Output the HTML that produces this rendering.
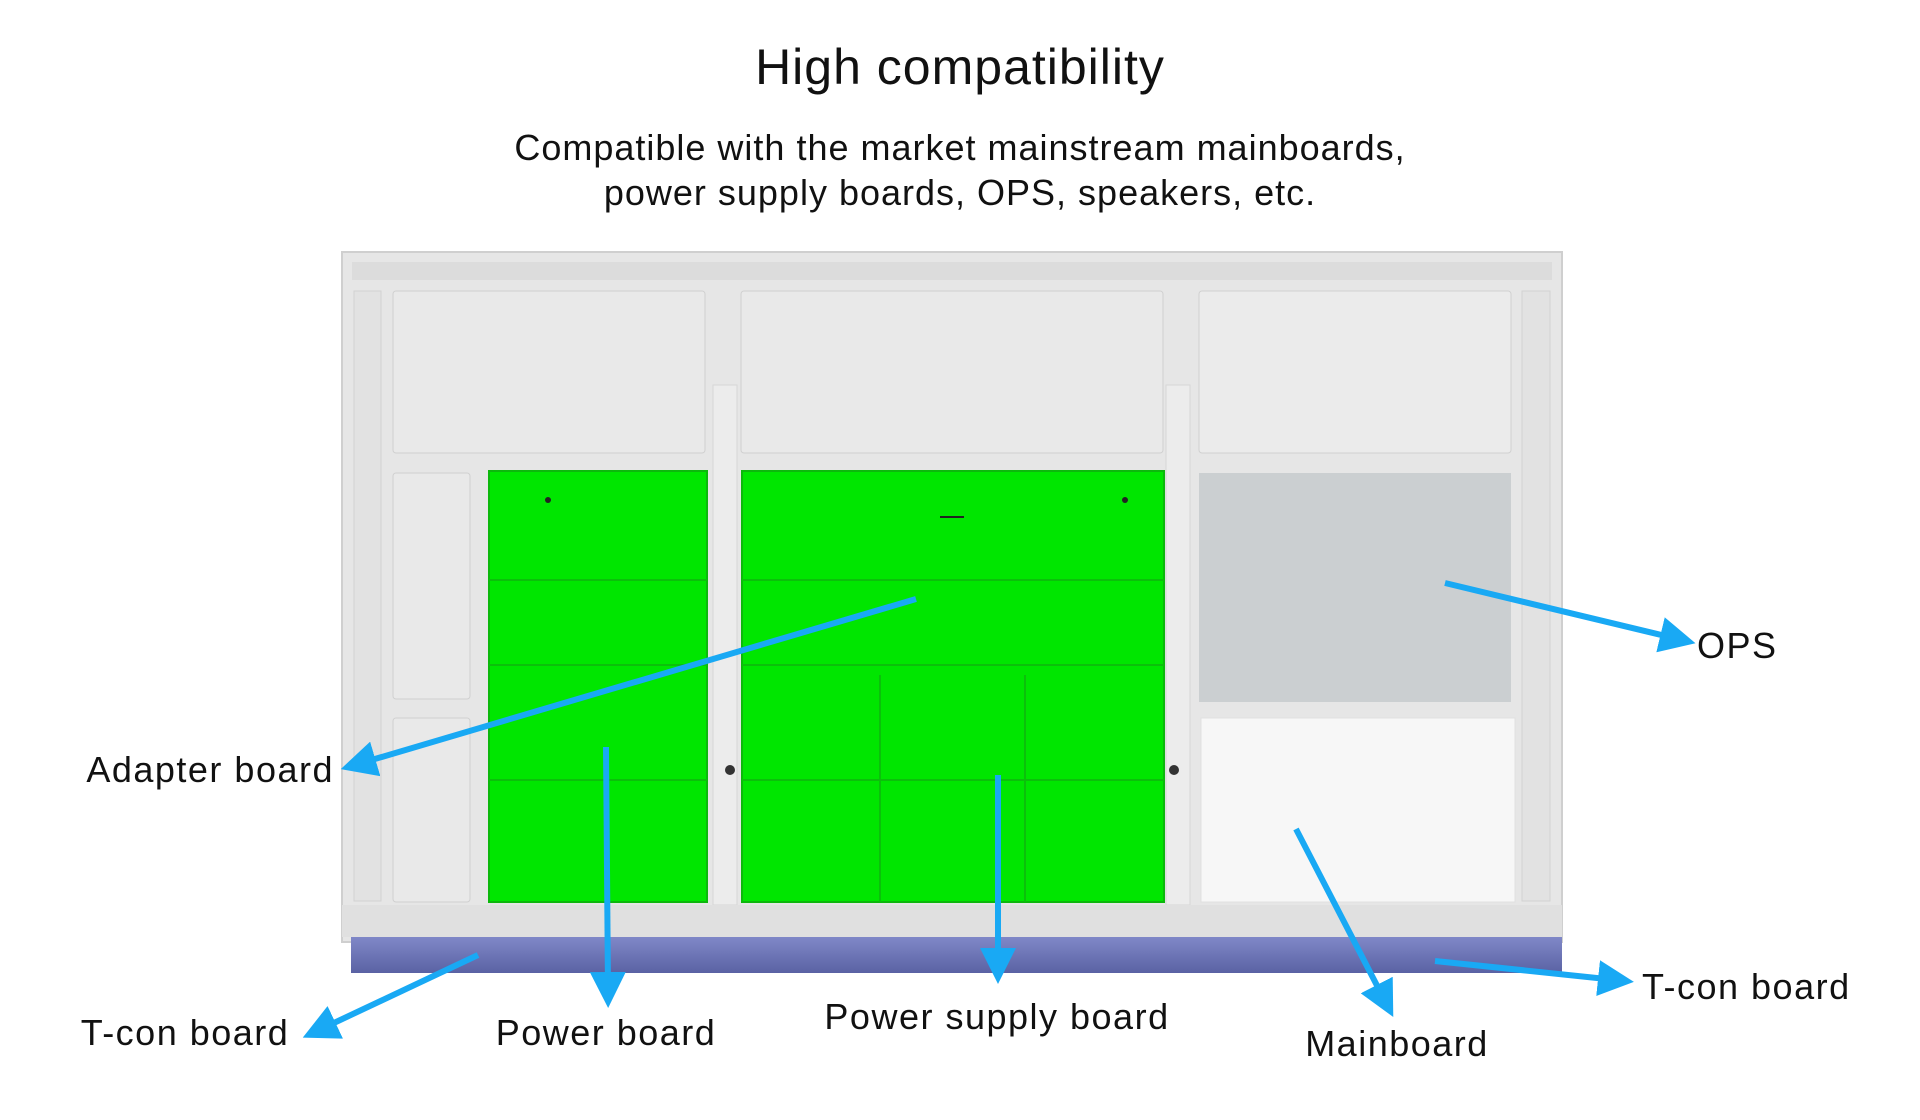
<!DOCTYPE html>
<html><head><meta charset="utf-8"><style>
html,body{margin:0;padding:0;background:#fff;}
svg{display:block;}
text{font-family:"Liberation Sans",sans-serif;fill:#111;}
</style></head><body>
<svg width="1920" height="1120" viewBox="0 0 1920 1120" xmlns="http://www.w3.org/2000/svg">
<defs>
<marker id="ah" markerWidth="6" markerHeight="6" refX="3" refY="3" orient="auto" markerUnits="strokeWidth">
<path d="M0,0 L6,3 L0,6 Z" fill="#19a9f4"/></marker>
<linearGradient id="bl" x1="0" y1="0" x2="0" y2="1"><stop offset="0" stop-color="#8088c8"/><stop offset="1" stop-color="#5a62a4"/></linearGradient>
</defs>
<text x="960" y="84" font-size="50" text-anchor="middle" font-weight="500" letter-spacing="1">High compatibility</text>
<text x="960" y="160" font-size="36" text-anchor="middle" letter-spacing="1">Compatible with the market mainstream mainboards,</text>
<text x="960" y="205" font-size="36" text-anchor="middle" letter-spacing="1">power supply boards, OPS, speakers, etc.</text>

<rect x="342" y="252" width="1220" height="690" fill="#e6e6e6" stroke="#cfcfcf" stroke-width="2"/>
<rect x="352" y="262" width="1200" height="18" fill="#dcdcdc"/>
<rect x="354" y="291" width="27" height="610" fill="#e2e2e2" stroke="#d2d2d2"/>
<rect x="1522" y="291" width="28" height="610" fill="#e2e2e2" stroke="#d2d2d2"/>
<rect x="393" y="291" width="312" height="162" fill="#e9e9e9" stroke="#d0d0d0" rx="3"/>
<rect x="741" y="291" width="422" height="162" fill="#e9e9e9" stroke="#d0d0d0" rx="3"/>
<rect x="1199" y="291" width="312" height="162" fill="#ebebeb" stroke="#d0d0d0" rx="3"/>
<rect x="393" y="473" width="77" height="226" fill="#e9e9e9" stroke="#d0d0d0" rx="3"/>
<rect x="393" y="718" width="77" height="184" fill="#e9e9e9" stroke="#d0d0d0" rx="3"/>
<rect x="713" y="385" width="24" height="520" fill="#ececec" stroke="#d6d6d6"/>
<rect x="1166" y="385" width="24" height="520" fill="#ececec" stroke="#d6d6d6"/>
<rect x="489" y="471" width="218" height="431" fill="#00e600" stroke="#0cb80c" stroke-width="2"/>
<rect x="742" y="471" width="422" height="431" fill="#00e600" stroke="#0cb80c" stroke-width="2"/>
<g stroke="#0bc00b" stroke-width="2" fill="none">
<line x1="489" y1="580" x2="707" y2="580"/><line x1="489" y1="665" x2="707" y2="665"/><line x1="489" y1="780" x2="707" y2="780"/>
<line x1="742" y1="580" x2="1164" y2="580"/><line x1="742" y1="665" x2="1164" y2="665"/><line x1="742" y1="780" x2="1164" y2="780"/>
<line x1="880" y1="675" x2="880" y2="902"/><line x1="1025" y1="675" x2="1025" y2="902"/>
</g>
<rect x="940" y="516" width="24" height="2" fill="#222"/>
<circle cx="548" cy="500" r="3" fill="#222"/><circle cx="1125" cy="500" r="3" fill="#222"/>
<circle cx="730" cy="770" r="5" fill="#333"/><circle cx="1174" cy="770" r="5" fill="#333"/>
<rect x="1199" y="473" width="312" height="229" fill="#cbcfd1"/>
<rect x="1201" y="718" width="314" height="184" fill="#f7f7f7" stroke="#e0e0e0"/>
<rect x="342" y="905" width="1220" height="32" fill="#e0e0e0"/>
<rect x="351" y="937" width="1211" height="36" fill="url(#bl)"/>

<g stroke="#19a9f4" stroke-width="6" fill="none" marker-end="url(#ah)">
<line x1="1445" y1="583" x2="1678" y2="639"/>
<line x1="916" y1="599" x2="358" y2="764"/>
<line x1="606" y1="747" x2="608" y2="990"/>
<line x1="998" y1="775" x2="998" y2="966"/>
<line x1="1296" y1="829" x2="1385" y2="1001"/>
<line x1="1435" y1="961" x2="1616" y2="980"/>
<line x1="478" y1="955" x2="319" y2="1030"/>
</g>
<g font-size="36" letter-spacing="1.5">
<text x="1697" y="658">OPS</text>
<text x="334" y="782" text-anchor="end">Adapter board</text>
<text x="606" y="1045" text-anchor="middle">Power board</text>
<text x="997" y="1029" text-anchor="middle">Power supply board</text>
<text x="1397" y="1056" text-anchor="middle">Mainboard</text>
<text x="1642" y="999">T-con board</text>
<text x="185" y="1045" text-anchor="middle">T-con board</text>
</g>
</svg>
</body></html>
